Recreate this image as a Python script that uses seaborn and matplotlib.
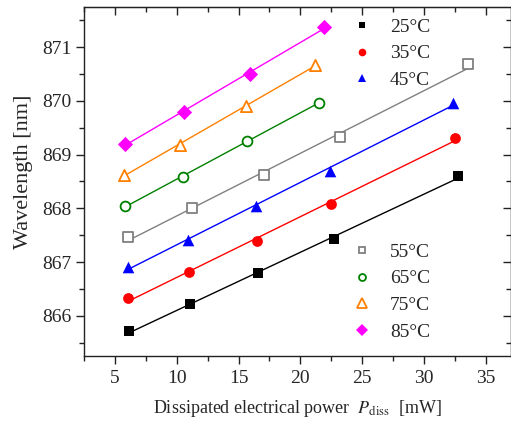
import numpy as np
import matplotlib
matplotlib.use("Agg")
import matplotlib.pyplot as plt
from matplotlib.lines import Line2D
from matplotlib.ticker import MultipleLocator
import seaborn as sns

# Dissipated power [mW] and emission wavelength [nm] per heat-sink temperature
temps = ["25°C", "35°C", "45°C", "55°C", "65°C", "75°C", "85°C"]
p25 = [6.16, 11.1, 16.6, 22.7, 32.75]
w25 = [865.71, 866.22, 866.80, 867.42, 868.60]
p35 = [6.08, 11.0, 16.5, 22.5, 32.5]
w35 = [866.33, 866.81, 867.40, 868.08, 869.31]
p45 = [6.03, 10.9, 16.4, 22.4, 32.35]
w45 = [866.91, 867.41, 868.04, 868.70, 869.97]
p55 = [6.08, 11.2, 17.05, 23.2, 33.6]
w55 = [867.46, 868.00, 868.63, 869.32, 870.68]
p65 = [5.8, 10.5, 15.7, 21.5]
w65 = [868.04, 868.58, 869.25, 869.97]
p75 = [5.75, 10.3, 15.6, 21.2]
w75 = [868.63, 869.18, 869.90, 870.67]
p85 = [5.8, 10.6, 15.9, 21.9]
w85 = [869.20, 869.79, 870.51, 871.37]

powers = [p25, p35, p45, p55, p65, p75, p85]
waves = [w25, w35, w45, w55, w65, w75, w85]

colors = ["#000000", "#ff0000", "#0000ff", "#808080", "#008000", "#ff8000", "#ff00ff"]
markers = ["s", "o", "^", "s", "o", "^", "D"]
filled = [True, True, True, False, False, False, True]
sizes = [55, 60, 70, 45, 50, 65, 60]
leg_sizes = [5.0, 5.5, 6.0, 5.0, 5.0, 6.5, 6.0]

sns.set_style("ticks")
plt.rcParams["font.family"] = ["Liberation Serif", "DejaVu Serif"]
plt.rcParams["mathtext.fontset"] = "stix"

fig = plt.figure(figsize=(5.11, 4.23), dpi=100)
ax = fig.add_axes([84 / 511, 67 / 423, 426.5 / 511, 349 / 423])

for p, w, c, m, f, s in zip(powers, waves, colors, markers, filled, sizes):
    sns.regplot(
        x=np.array(p), y=np.array(w), ax=ax, ci=None, marker=m, color=c,
        scatter_kws=dict(s=s, facecolors=c if f else "white",
                         edgecolors=c, linewidths=0 if f else 1.3, zorder=3, alpha=1),
        line_kws=dict(lw=1.0, zorder=2),
    )

ax.set_xlim(2.5, 37)
ax.set_ylim(865.25, 871.75)
ax.xaxis.set_major_locator(MultipleLocator(5))
ax.xaxis.set_minor_locator(MultipleLocator(2.5))
ax.yaxis.set_major_locator(MultipleLocator(1))
ax.yaxis.set_minor_locator(MultipleLocator(0.5))

spine_col = "#222222"
for sp in ax.spines.values():
    sp.set_visible(True)
    sp.set_color(spine_col)
    sp.set_linewidth(1.0)

ax.tick_params(which="both", direction="out", color=spine_col, width=1.0,
               labelsize=14, top=False, right=False)
ax.tick_params(which="major", length=6)
ax.tick_params(which="minor", length=3.5)
ax.tick_params(axis="x", pad=4)
ax.tick_params(axis="y", pad=3)

# inward ticks on the top and right frame
top = ax.secondary_xaxis("top")
top.xaxis.set_major_locator(MultipleLocator(5))
top.xaxis.set_minor_locator(MultipleLocator(2.5))
top.tick_params(which="both", direction="in", labeltop=False, color=spine_col, width=1.0)
top.tick_params(which="major", length=6)
top.tick_params(which="minor", length=3.5)
top.spines["top"].set_color(spine_col)
right = ax.secondary_yaxis("right")
right.yaxis.set_major_locator(MultipleLocator(1))
right.yaxis.set_minor_locator(MultipleLocator(0.5))
right.tick_params(which="both", direction="in", labelright=False, color=spine_col, width=1.0)
right.tick_params(which="major", length=6)
right.tick_params(which="minor", length=3.5)
right.spines["right"].set_color(spine_col)

ax.set_xlabel(r"Dissipated electrical power  $P_{\mathrm{diss}}$  [mW]", fontsize=13, labelpad=8)
ax.set_ylabel("Wavelength [nm]", fontsize=16)
ax.yaxis.set_label_coords(-0.12, 0.527)

handles = [
    Line2D([], [], ls="none", marker=m, color=c, markersize=ms,
           markerfacecolor=c if f else "white", markeredgecolor=c,
           markeredgewidth=0 if f else 1.3)
    for m, c, f, ms in zip(markers, colors, filled, leg_sizes)
]

leg_kw = dict(frameon=False, fontsize=14, loc="upper left", borderpad=0,
              borderaxespad=0, handlelength=1.0, handletextpad=0.94,
              labelspacing=0.47)
leg1 = ax.legend(handles[:3], temps[:3], bbox_to_anchor=(0.629, 0.9685), **leg_kw)
ax.add_artist(leg1)
ax.legend(handles[3:], temps[3:], bbox_to_anchor=(0.629, 0.3235), **leg_kw)

fig.savefig("out.png", dpi=100)
